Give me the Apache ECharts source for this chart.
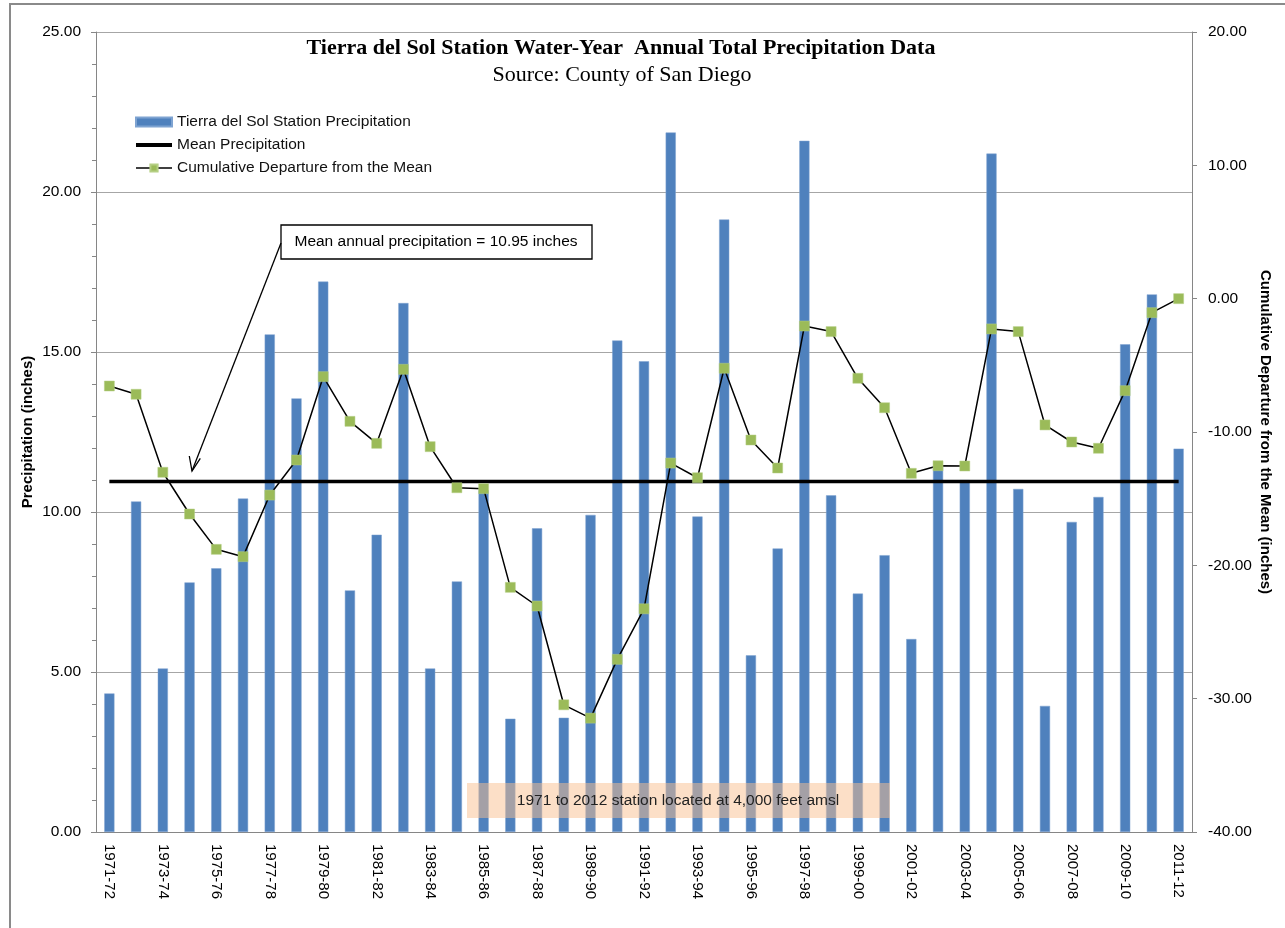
<!DOCTYPE html>
<html>
<head>
<meta charset="utf-8">
<script src="https://cdn.jsdelivr.net/npm/echarts@6/dist/echarts.min.js"></script>
<style>
html,body{margin:0;padding:0;background:#fff;overflow:hidden;}
#chart{width:1285px;height:928px;}
</style>
</head>
<body>
<div id="chart"></div>
<script>
const categories = ['1971-72','1972-73','1973-74','1974-75','1975-76','1976-77','1977-78','1978-79','1979-80','1980-81',
  '1981-82','1982-83','1983-84','1984-85','1985-86','1986-87','1987-88','1988-89','1989-90','1990-91',
  '1991-92','1992-93','1993-94','1994-95','1995-96','1996-97','1997-98','1998-99','1999-00','2000-01',
  '2001-02','2002-03','2003-04','2004-05','2005-06','2006-07','2007-08','2008-09','2009-10','2010-11','2011-12'];

const precipitation = [4.33,10.33,5.11,7.80,8.24,10.42,15.55,13.55,17.20,7.55,
  9.29,16.53,5.11,7.83,10.68,3.54,9.49,3.57,9.91,15.36,
  14.71,21.86,9.86,19.14,5.52,8.86,21.60,10.52,7.45,8.65,
  6.03,11.43,11.00,21.20,10.72,3.94,9.69,10.47,15.24,16.80,11.98];

const cumulativeDeparture = [-6.55,-7.17,-13.02,-16.15,-18.80,-19.35,-14.73,-12.10,-5.85,-9.20,
  -10.85,-5.30,-11.10,-14.18,-14.25,-21.65,-23.05,-30.46,-31.46,-27.05,
  -23.26,-12.33,-13.43,-5.22,-10.60,-12.70,-2.05,-2.47,-5.97,-8.18,
  -13.10,-12.53,-12.55,-2.27,-2.47,-9.47,-10.75,-11.22,-6.90,-1.05,0.00];

const meanPrecipitation = 10.95;
const meanLine = categories.map(() => meanPrecipitation);

const leftTicks = {min: 0, max: 25, interval: 5};
const rightTicks = {min: -40, max: 20, interval: 10};

const SANS = "'Liberation Sans', Arial, sans-serif";
const SERIF = "'Liberation Serif', 'Times New Roman', serif";
const axisGray = '#868686';

const chart = echarts.init(document.getElementById('chart'), null, {renderer: 'canvas'});

const option = {
  animation: false,
  backgroundColor: '#ffffff',
  title: [
    {text: 'Tierra del Sol Station Water-Year  Annual Total Precipitation Data', left: 616, top: 32, textAlign: 'center',
     textStyle: {fontFamily: SERIF, fontWeight: 'bold', fontSize: 22, color: '#000'}},
    {text: 'Source: County of San Diego', left: 617, top: 59, textAlign: 'center',
     textStyle: {fontFamily: SERIF, fontWeight: 'normal', fontSize: 22, color: '#000'}}
  ],
  legend: {
    orient: 'vertical', left: 134, top: 114, padding: 0, itemWidth: 36, itemHeight: 9, itemGap: 7,
    textStyle: {fontFamily: SANS, fontSize: 15.5, color: '#111'},
    data: [
      {name: 'Tierra del Sol Station Precipitation', icon: 'rect'},
      {name: 'Mean Precipitation', itemStyle: {color: 'rgba(0,0,0,0)', borderWidth: 0}, lineStyle: {width: 4, color: '#000'}},
      {name: 'Cumulative Departure from the Mean', lineStyle: {width: 1.5, color: '#000'}}
    ]
  },
  grid: {left: 96, right: 93, top: 32, bottom: 96, outerBoundsMode: 'none', containLabel: false},
  xAxis: {
    type: 'category', data: categories, boundaryGap: true,
    axisLine: {show: true, lineStyle: {color: axisGray}},
    axisTick: {show: false},
    axisLabel: {interval: 1, rotate: -90, margin: 12, fontFamily: SANS, fontSize: 15, color: '#000'}
  },
  yAxis: [
    {
      type: 'value', min: leftTicks.min, max: leftTicks.max, interval: leftTicks.interval,
      axisLine: {show: true, lineStyle: {color: axisGray}},
      axisTick: {show: true, inside: false, length: 5, lineStyle: {color: axisGray}},
      minorTick: {show: true, splitNumber: 5, length: 4, lineStyle: {color: axisGray}},
      splitLine: {show: true, lineStyle: {color: '#a6a6a6', width: 1}},
      axisLabel: {formatter: v => v.toFixed(2), margin: 15, fontFamily: SANS, fontSize: 15.5, color: '#000'},
      name: 'Precipitation (inches)', nameLocation: 'middle', nameRotate: 90, nameGap: 61, nameMoveOverlap: false,
      nameTextStyle: {fontFamily: SANS, fontWeight: 'bold', fontSize: 15, color: '#000'}
    },
    {
      type: 'value', position: 'right', min: rightTicks.min, max: rightTicks.max, interval: rightTicks.interval,
      axisLine: {show: true, lineStyle: {color: axisGray}},
      axisTick: {show: true, inside: false, length: 5, lineStyle: {color: axisGray}},
      splitLine: {show: false},
      axisLabel: {formatter: v => v.toFixed(2), margin: 16, fontFamily: SANS, fontSize: 15.5, color: '#000'},
      name: 'Cumulative Departure from the Mean (inches)', nameLocation: 'middle', nameRotate: -90, nameGap: 66, nameMoveOverlap: false,
      nameTextStyle: {fontFamily: SANS, fontWeight: 'bold', fontSize: 15, color: '#000'}
    }
  ],
  series: [
    {
      name: 'Tierra del Sol Station Precipitation', type: 'bar', data: precipitation,
      xAxisIndex: 0, yAxisIndex: 0, barWidth: '38%',
      itemStyle: {color: '#4F81BD', borderColor: '#7ea3d1', borderWidth: 0.5}, z: 2
    },
    {
      name: 'Mean Precipitation', type: 'line', data: meanLine, xAxisIndex: 0, yAxisIndex: 0,
      symbol: 'none', lineStyle: {color: '#000', width: 3.5}, itemStyle: {color: '#000'}, z: 3
    },
    {
      name: 'Cumulative Departure from the Mean', type: 'line', data: cumulativeDeparture,
      xAxisIndex: 0, yAxisIndex: 1, symbol: 'rect', symbolSize: 10,
      lineStyle: {color: '#000', width: 1.5},
      itemStyle: {color: '#9BBB59', borderColor: '#b5cf84', borderWidth: 0.5}, z: 4
    }
  ],
  graphic: [
    {type: 'rect', silent: true, z: 100, shape: {x: 10, y: 4, width: 1300, height: 960},
     style: {fill: null, stroke: '#8a8a8a', lineWidth: 2}},
    {type: 'rect', z: 100, shape: {x: 281, y: 225, width: 311, height: 34},
     style: {fill: '#fff', stroke: '#000', lineWidth: 1.3}},
    {type: 'text', z: 101, x: 436, y: 242,
     style: {text: 'Mean annual precipitation = 10.95 inches', fill: '#000', font: "15.5px " + SANS, textAlign: 'center', textVerticalAlign: 'middle'}},
    {type: 'line', z: 100, shape: {x1: 281, y1: 243, x2: 192, y2: 471}, style: {stroke: '#000', lineWidth: 1.3}},
    {type: 'polyline', z: 100, shape: {points: [[189.3, 456], [192, 471], [200.3, 458.3]]}, style: {stroke: '#000', fill: null, lineWidth: 1.3}},
    {type: 'rect', z: 100, shape: {x: 467, y: 783, width: 423, height: 35},
     style: {fill: 'rgba(250,191,143,0.5)'}},
    {type: 'text', z: 101, x: 678, y: 801,
     style: {text: '1971 to 2012 station located at 4,000 feet amsl', fill: '#222', font: "15.5px " + SANS, textAlign: 'center', textVerticalAlign: 'middle'}}
  ]
};
chart.setOption(option);
</script>
</body>
</html>
